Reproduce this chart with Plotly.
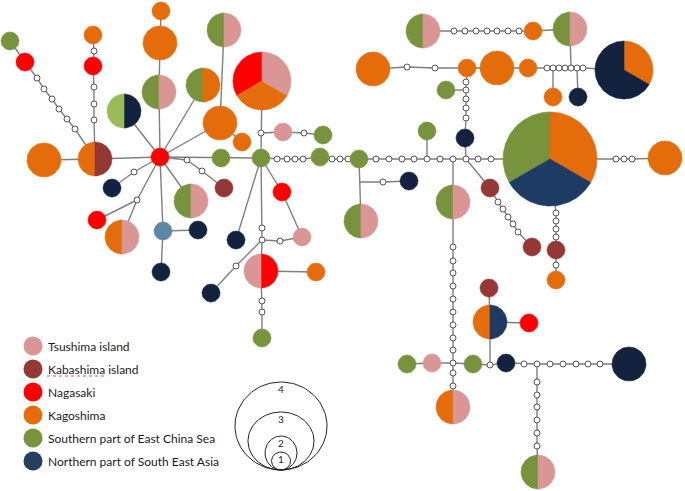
import numpy as np
import plotly.graph_objects as go

# ---------------- DATA ----------------
# population codes
pop_codes = ["T", "B", "Na", "K", "S", "N"]
pop_labels = ["Tsushima island", "Kabashima island", "Nagasaki", "Kagoshima",
              "Southern part of East China Sea", "Northern part of South East Asia"]
pop_colors = {"T": "#D99694", "B": "#953735", "Na": "#FF0000", "K": "#E46C0A",
              "S": "#77933C", "SL": "#9BBB59", "N": "#13233F", "N2": "#1E3B64",
              "SB": "#5B88A5"}
legend_colors = ["#D99694", "#953735", "#FF0000", "#E46C0A", "#77933C", "#243F60"]

# haplotype nodes (network layout positions), sample-size class, composition (clockwise from top)
hap_names = ["h%d" % i for i in range(1, 70)]
hap_x = [10, 25, 93, 93, 44, 95, 160, 124, 161, 160, 159, 203, 224, 220, 242, 262, 261, 283, 323, 221,
         224, 320, 112, 97, 122, 191, 163, 198, 161, 236, 282, 302, 261, 316, 211, 262, 423, 533, 570, 373,
         467, 497, 528, 624, 553, 578, 446, 465, 359, 427, 550, 665, 453, 409, 361, 490, 532, 556, 556, 489,
         490, 529, 407, 432, 473, 506, 629, 453, 538]
hap_y = [41, 62, 35, 66, 160, 159, 157, 111, 11, 43, 92, 85, 30, 123, 142, 81, 158, 132, 135, 158,
         188, 157, 188, 220, 237, 201, 231, 230, 272, 240, 192, 237, 271, 272, 293, 338, 31, 31, 29, 69,
         68, 68, 68, 70, 97, 97, 90, 138, 159, 131, 159, 158, 202, 181, 221, 188, 247, 250, 280, 288,
         322, 323, 364, 363, 364, 363, 364, 407, 472]
hap_n = [1, 1, 1, 1, 2, 2, 1, 2, 1, 2, 2, 2, 2, 2, 1, 3, 1, 1, 1, 1,
         1, 1, 1, 1, 2, 2, 1, 1, 1, 1, 1, 1, 2, 1, 1, 1, 2, 1, 2, 2,
         1, 2, 1, 3, 1, 1, 1, 1, 1, 1, 4, 2, 2, 1, 2, 1, 1, 1, 1, 1,
         2, 1, 1, 1, 1, 1, 2, 2, 2]
hap_comp = ["S", "Na", "K", "Na", "K", "B K", "Na", "N SL", "K", "K", "T S", "K S", "T S", "K", "K",
            "T K Na", "S", "T", "S", "S", "B", "S", "N", "Na", "T K", "T S", "SB", "N", "N", "N",
            "Na", "T", "Na T", "K", "N", "S", "T S", "K", "T S", "K", "K", "K", "K", "K N N", "K",
            "N", "S", "N", "S", "S", "K N2 S", "K", "T S", "N", "T S", "B", "B", "B", "K", "B",
            "N2 K", "Na", "S", "T", "S", "N", "N", "T K", "T S"]

# median vectors (inferred, unsampled haplotypes)
med_x = [37, 44, 52, 59, 67, 75, 94, 94, 94, 94, 187, 202, 277, 287, 295, 303, 332, 340, 348, 261,
         304, 134, 137, 262, 262, 280, 236, 262, 262, 454, 465, 476, 487, 497, 508, 519, 407, 435, 547, 553,
         559, 565, 571, 577, 583, 466, 466, 466, 466, 466, 376, 389, 402, 414, 427, 440, 453, 466, 478, 491,
         616, 624, 632, 383, 453, 453, 453, 453, 453, 453, 453, 453, 453, 453, 453, 453, 490, 524, 537, 550,
         563, 576, 588, 600, 537, 537, 537, 537, 537, 537, 498, 503, 508, 513, 518, 556, 556, 556, 556, 556]
med_y = [78, 89, 99, 109, 119, 129, 51, 87, 104, 120, 160, 171, 159, 159, 159, 159, 159, 159, 159, 133,
         133, 172, 200, 228, 240, 241, 266, 301, 312, 31, 31, 31, 31, 31, 31, 31, 67, 68, 68, 68,
         68, 68, 68, 68, 68, 82, 90, 99, 108, 118, 159, 159, 159, 159, 159, 159, 159, 159, 159, 159,
         159, 159, 159, 182, 247, 261, 273, 286, 299, 312, 325, 338, 350, 363, 373, 386, 365, 364, 364, 364,
         364, 364, 364, 364, 382, 395, 407, 420, 433, 446, 202, 209, 217, 224, 232, 213, 221, 229, 237, 265]
med_names = ["m%d" % i for i in range(1, len(med_x) + 1)]
junc = {"j1": (360, 182)}

def rng(a, b):
    return ["m%d" % i for i in range(a, b + 1)]

paths = [
    ["h1", "h2"], ["h2"] + rng(1, 6) + ["h6"], ["h3", "m7", "h4"] + rng(8, 10) + ["h6"],
    ["h5", "h6"], ["h6", "h7"], ["h7", "h8"], ["h7", "h11", "h10", "h9"], ["h7", "h12"],
    ["h7", "h14"], ["h13", "h14"], ["h14", "h15"], ["h7", "h20", "h17"], ["h7", "m11", "m12", "h21"],
    ["h7", "m22", "h23"], ["h7", "m23", "h25"], ["m23", "h24"], ["h7", "h26"], ["h7", "h27", "h29"],
    ["h27", "h28"], ["h16", "m20", "h17"], ["m20", "h18", "m21", "h19"],
    ["h17"] + rng(13, 16) + ["h22"] + rng(17, 19) + ["h49"],
    ["h17", "h30"], ["h17", "h31", "h32"], ["h17", "m24", "m25", "h33"], ["m25", "m26", "h32"],
    ["m25", "m27", "h35"], ["h33", "h34"], ["h33", "m28", "m29", "h36"],
    ["h37"] + rng(30, 36) + ["h38", "h39"], ["h39", "m43"],
    ["h40", "m37", "m38", "h41", "h42", "h43"] + rng(39, 45) + ["h44"], ["m40", "h45"], ["m44", "h46"],
    ["h41"] + rng(46, 50) + ["h48", "m58"], ["m47", "h47"],
    ["h49"] + rng(51, 60) + ["h51"] + rng(61, 63) + ["h52"], ["m55", "h50"],
    ["h49", "j1", "h55"], ["j1", "m64", "h54"],
    ["m57", "h53"] + rng(65, 76) + ["h68"],
    ["h63", "h64", "m74", "h65", "m77", "h66"] + rng(78, 84) + ["h67"], ["m77", "h61", "h60"], ["h61", "h62"],
    ["m79"] + rng(85, 90) + ["h69"],
    ["m58", "h56"] + rng(91, 95) + ["h57"],
    ["h51"] + rng(96, 99) + ["h58", "m100", "h59"],
]

# circle-size legend
size_classes = [4, 3, 2, 1]
size_radius = {1: 9, 2: 17, 3: 29, 4: 47}
scale_rx = [46, 33, 16, 9.5]
scale_ry = [44, 29, 17, 9]

# ---------------- BUILD ----------------
pos = {}
for n, x, y in zip(hap_names, hap_x, hap_y):
    pos[n] = (x, y)
for n, x, y in zip(med_names, med_x, med_y):
    pos[n] = (x, y)
pos.update(junc)

fig = go.Figure()

# edges
ex, ey = [], []
for p in paths:
    for n in p:
        ex.append(pos[n][0]); ey.append(pos[n][1])
    ex.append(None); ey.append(None)
fig.add_trace(go.Scatter(x=ex, y=ey, mode="lines", line=dict(color="#7F7F7F", width=1.4),
                         hoverinfo="skip", showlegend=False))

# median vectors
fig.add_trace(go.Scatter(x=med_x, y=med_y, mode="markers",
                         marker=dict(size=6, color="white", line=dict(color="#555555", width=1)),
                         hoverinfo="skip", showlegend=False))

# pie wedges (one polygon group per colour)
wedges = {}
for x, y, n, comp in zip(hap_x, hap_y, hap_n, hap_comp):
    r = size_radius[n]
    parts = comp.split()
    k = len(parts)
    for i, c in enumerate(parts):
        a0 = np.pi / 2 - 2 * np.pi * i / k
        a1 = np.pi / 2 - 2 * np.pi * (i + 1) / k
        t = np.linspace(a0, a1, 60)
        px = list(x + r * np.cos(t))
        py = list(y - r * np.sin(t))
        if k > 1:
            px = [x] + px + [x]
            py = [y] + py + [y]
        lst = wedges.setdefault(c, ([], []))
        lst[0].extend(px + [None]); lst[1].extend(py + [None])
for c, (wx, wy) in wedges.items():
    fig.add_trace(go.Scatter(x=wx, y=wy, mode="lines", fill="toself", fillcolor=pop_colors[c],
                             line=dict(color=pop_colors[c], width=0.6), hoverinfo="skip", showlegend=False))

# population legend
leg_x0, leg_y0, leg_dy = 33, 346, 23
fig.add_trace(go.Scatter(x=[leg_x0] * 6, y=[leg_y0 + i * leg_dy for i in range(6)], mode="markers",
                         marker=dict(size=19, color=legend_colors), hoverinfo="skip", showlegend=False))
for i, lab in enumerate(pop_labels):
    fig.add_annotation(x=leg_x0 + 13, y=leg_y0 + i * leg_dy, text=lab, showarrow=False,
                       xanchor="left", yanchor="middle",
                       font=dict(family="Lato", size=12, color="#1a1a1a"))
# spell-check underline under "Kabashima"
fig.add_trace(go.Scatter(x=[47, 104], y=[leg_y0 + leg_dy + 7] * 2, mode="lines",
                         line=dict(color="#E05050", width=1, dash="dot"), hoverinfo="skip", showlegend=False))

# size-scale legend
sx, sbottom = 281, 470
t = np.linspace(0, 2 * np.pi, 120)
for cls, rx, ry in zip(size_classes, scale_rx, scale_ry):
    cy = sbottom - ry
    fig.add_trace(go.Scatter(x=sx + rx * np.cos(t), y=cy + ry * np.sin(t), mode="lines",
                             line=dict(color="#222222", width=1), hoverinfo="skip", showlegend=False))
    fig.add_annotation(x=sx, y=sbottom - 2 * ry + 7, text=str(cls), showarrow=False,
                       font=dict(family="Lato", size=10, color="#222222"))

fig.update_layout(width=685, height=491, margin=dict(l=0, r=0, t=0, b=0),
                  plot_bgcolor="white", paper_bgcolor="white",
                  xaxis=dict(range=[0, 685], visible=False, fixedrange=True),
                  yaxis=dict(range=[491, 0], visible=False, fixedrange=True))
fig.write_html("out.html", config={"displayModeBar": False},
               post_script="document.body.style.margin='0px';document.body.style.overflow='hidden';")
